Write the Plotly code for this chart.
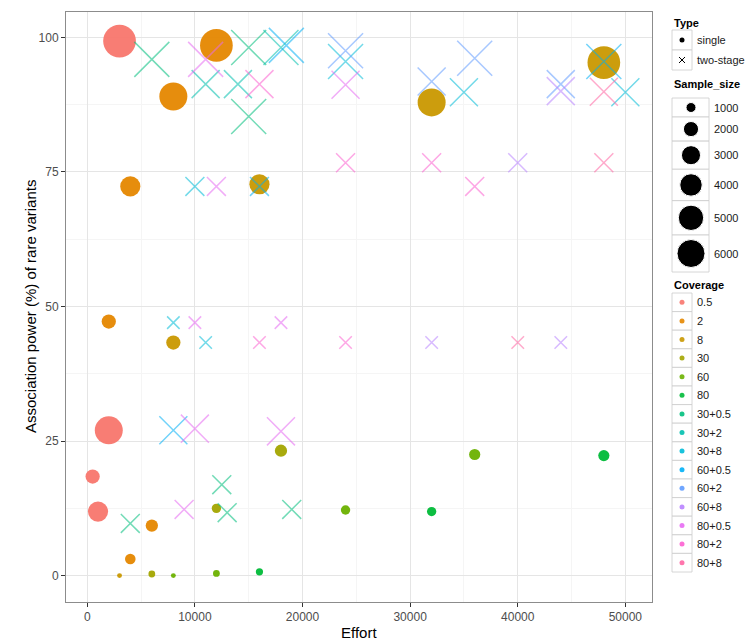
import numpy as np
import plotly.graph_objects as go

# coverage levels and the ggplot hue palette
coverage_levels = ["0.5", "2", "8", "30", "60", "80", "30+0.5", "30+2", "30+8",
                   "60+0.5", "60+2", "60+8", "80+0.5", "80+2", "80+8"]
coverage_colors = ["#F8766D", "#E58700", "#C99800", "#A3A500", "#6BB100", "#00BA38",
                   "#00BF7D", "#00C0AF", "#00BCD8", "#00B0F6", "#619CFF", "#B983FF",
                   "#E76BF3", "#FD61D1", "#FF67A4"]
size_breaks = [1000, 2000, 3000, 4000, 5000, 6000]
type_labels = ["single", "two-stage"]

# single design (circles)
single_effort = [3000, 12000, 8000, 32000, 48000, 4000, 16000, 2000, 8000, 2000, 500, 1000,
                 18000, 12000, 24000, 6000, 4000, 3000, 6000, 8000, 12000, 16000, 36000, 32000, 48000]
single_power = [99.3, 98.5, 89.0, 87.9, 95.3, 72.3, 72.7, 47.2, 43.3, 27.0, 18.4, 11.9,
                23.2, 12.5, 12.2, 9.3, 3.1, 0.0, 0.3, 0.0, 0.4, 0.7, 22.5, 11.9, 22.3]
single_size = [8000, 8000, 6000, 6000, 8000, 3300, 3300, 1800, 1800, 6000, 1800, 3300,
               1400, 900, 900, 1400, 1100, 350, 550, 350, 550, 600, 1200, 900, 1200]
single_cov = ["0.5", "2", "2", "8", "8", "2", "8", "2", "8", "0.5", "0.5", "0.5",
              "30", "30", "60", "2", "2", "8", "30", "60", "60", "80", "60", "80", "80"]

# two-stage design (crosses)
two_effort = [6000, 11000, 11000, 14000, 15000, 15000, 16000, 18000, 18500, 24000, 24000, 24000,
              32000, 35000, 36000, 44000, 44000, 48000, 48000, 50000,
              10000, 12000, 16000, 24000, 32000, 36000, 40000, 48000,
              8000, 10000, 18000, 11000, 16000, 24000, 32000, 40000, 44000,
              8000, 10000, 18000, 12500, 13000, 19000, 9000, 4000]
two_power = [95.9, 95.9, 91.3, 91.3, 98.1, 85.3, 91.3, 98.1, 98.5, 97.5, 95.5, 91.2,
             91.8, 89.8, 96.1, 91.3, 90.0, 95.5, 89.9, 89.8,
             72.3, 72.3, 72.3, 76.7, 76.7, 72.3, 76.7, 76.7,
             47.0, 47.0, 47.0, 43.3, 43.3, 43.3, 43.3, 43.3, 43.3,
             27.0, 27.3, 26.8, 16.9, 11.7, 12.3, 12.3, 9.7]
two_size = [6000, 6000, 4000, 4000, 6000, 6000, 4000, 6000, 6000, 6000, 6000, 4000,
            4000, 4000, 6000, 4000, 4000, 6000, 4000, 4000,
            2000, 2000, 2000, 2000, 2000, 2000, 2000, 2000,
            1000, 1000, 1000, 1000, 1000, 1000, 1000, 1000, 1000,
            4000, 4000, 4000, 2000, 2000, 2000, 2000, 2000]
two_cov = ["30+0.5", "80+0.5", "30+2", "30+2", "30+0.5", "30+0.5", "80+2", "30+2", "60+0.5",
           "60+2", "30+8", "80+0.5", "60+2", "30+8", "60+2", "60+2", "60+8", "60+0.5",
           "80+8", "30+8",
           "30+8", "80+0.5", "60+0.5", "80+2", "80+2", "80+2", "60+8", "80+8",
           "30+8", "80+0.5", "80+0.5", "30+8", "80+2", "80+2", "60+8", "80+8", "60+8",
           "60+0.5", "80+0.5", "80+0.5", "30+0.5", "30+0.5", "30+0.5", "80+0.5", "30+0.5"]

W, H = 754, 644
FONT = "Liberation Sans"


def diam(n):
    # area-like size scale (pixels)
    return -2.42 + 12.42 * np.sqrt(np.asarray(n, dtype=float) / 1000)


fig = go.Figure()

# circles first, then crosses
for lev, col in zip(coverage_levels, coverage_colors):
    idx = [i for i, c in enumerate(single_cov) if c == lev]
    if idx:
        fig.add_trace(go.Scatter(
            x=[single_effort[i] for i in idx],
            y=[single_power[i] for i in idx],
            mode="markers",
            marker=dict(symbol="circle", color=col, opacity=0.95,
                        size=diam([single_size[i] for i in idx]), line=dict(width=0)),
            showlegend=False, hoverinfo="x+y"))

for lev, col in zip(coverage_levels, coverage_colors):
    idx = [i for i, c in enumerate(two_cov) if c == lev]
    if idx:
        fig.add_trace(go.Scatter(
            x=[two_effort[i] for i in idx],
            y=[two_power[i] for i in idx],
            mode="markers",
            marker=dict(symbol="x-thin", color=col, opacity=0.55,
                        size=1.25 * diam([two_size[i] for i in idx]),
                        line=dict(width=1.5, color=col)),
            showlegend=False, hoverinfo="x+y"))

# ---- hand built legend on a hidden pixel axis ----
shapes = []
annots = []
txt = dict(family=FONT, size=11, color="#1a1a1a")
ttl = dict(family=FONT, size=11, color="#000000")
box_line = dict(color="#cccccc", width=0.8)


def key_box(x0, y0, x1, y1):
    shapes.append(dict(type="rect", xref="x2", yref="y2", x0=x0, y0=y0, x1=x1, y1=y1,
                       line=box_line, fillcolor="white", layer="below"))


# Type
annots.append(dict(text="<b>Type</b>", x=672, y=23, xref="x2", yref="y2", showarrow=False,
                   xanchor="left", yanchor="middle", font=ttl))
type_y = [40, 60]
for k, lab in enumerate(type_labels):
    key_box(672, type_y[k] - 10, 692, type_y[k] + 10)
    annots.append(dict(text=lab, x=695, y=type_y[k], xref="x2", yref="y2", showarrow=False,
                       xanchor="left", yanchor="middle", font=txt))
fig.add_trace(go.Scatter(x=[682], y=[type_y[0]], xaxis="x2", yaxis="y2", mode="markers",
                         marker=dict(symbol="circle", size=5, color="black", opacity=1),
                         showlegend=False, hoverinfo="skip"))
fig.add_trace(go.Scatter(x=[682], y=[type_y[1]], xaxis="x2", yaxis="y2", mode="markers",
                         marker=dict(symbol="x-thin", size=6, color="black", opacity=1,
                                     line=dict(width=1, color="black")),
                         showlegend=False, hoverinfo="skip"))

# Sample_size
annots.append(dict(text="<b>Sample_size</b>", x=672, y=84, xref="x2", yref="y2", showarrow=False,
                   xanchor="left", yanchor="middle", font=ttl))
y0 = 98
size_y = []
for b in size_breaks:
    h = max(19, float(diam(b)) + 9)
    key_box(672, y0, 709, y0 + h)
    size_y.append(y0 + h / 2)
    annots.append(dict(text=str(b), x=712, y=y0 + h / 2, xref="x2", yref="y2", showarrow=False,
                       xanchor="left", yanchor="middle", font=txt))
    y0 += h
fig.add_trace(go.Scatter(x=[691] * len(size_breaks), y=size_y, xaxis="x2", yaxis="y2",
                         mode="markers",
                         marker=dict(symbol="circle", size=diam(size_breaks), color="black",
                                     opacity=1),
                         showlegend=False, hoverinfo="skip"))

# Coverage
annots.append(dict(text="<b>Coverage</b>", x=672, y=285, xref="x2", yref="y2", showarrow=False,
                   xanchor="left", yanchor="middle", font=ttl))
row_h = 18.6
cov_y = []
for k, lev in enumerate(coverage_levels):
    top = 293 + k * row_h
    key_box(672, top, 692, top + row_h)
    cov_y.append(top + row_h / 2)
    annots.append(dict(text=lev, x=695, y=top + row_h / 2, xref="x2", yref="y2", showarrow=False,
                       xanchor="left", yanchor="middle", font=txt))
fig.add_trace(go.Scatter(x=[682] * len(coverage_levels), y=cov_y, xaxis="x2", yaxis="y2",
                         mode="markers",
                         marker=dict(symbol="circle", size=5, color=coverage_colors, opacity=0.9),
                         showlegend=False, hoverinfo="skip"))

# axis titles
annots.append(dict(text="Effort", x=359 / W, y=1 - 632 / H, xref="paper", yref="paper",
                   showarrow=False, xanchor="center", yanchor="middle",
                   font=dict(family=FONT, size=15, color="#000000")))
annots.append(dict(text="Association power (%) of rare variants", x=31 / W, y=1 - 307 / H,
                   xref="paper", yref="paper", showarrow=False, textangle=-90,
                   xanchor="center", yanchor="middle",
                   font=dict(family=FONT, size=15, color="#000000")))

axis_common = dict(showgrid=True, gridcolor="#e5e5e5", gridwidth=1, zeroline=False,
                   showline=True, linecolor="#8c8c8c", linewidth=1, mirror=True,
                   ticks="outside", ticklen=4, tickcolor="#333333", tickwidth=1,
                   tickfont=dict(family=FONT, size=12, color="#4d4d4d"),
                   tickformat="d", automargin=False, fixedrange=True)

fig.update_layout(
    width=W, height=H,
    margin=dict(l=0, r=0, t=0, b=0),
    paper_bgcolor="white", plot_bgcolor="white",
    xaxis=dict(domain=[66 / W, 652 / W], range=[-1975, 52475],
               tickvals=[0, 10000, 20000, 30000, 40000, 50000],
               minor=dict(tickvals=[5000, 15000, 25000, 35000, 45000], showgrid=True,
                          gridcolor="#f5f5f5", ticks=""),
               **axis_common),
    yaxis=dict(domain=[1 - 602 / H, 1 - 12 / H], range=[-4.9, 104.7],
               tickvals=[0, 25, 50, 75, 100],
               minor=dict(tickvals=[12.5, 37.5, 62.5, 87.5], showgrid=True,
                          gridcolor="#f5f5f5", ticks=""),
               **axis_common),
    xaxis2=dict(domain=[660 / W, 1], range=[660, 754], visible=False, anchor="y2",
                fixedrange=True),
    yaxis2=dict(domain=[0, 1], range=[644, 0], visible=False, anchor="x2", fixedrange=True),
    shapes=shapes,
    annotations=annots,
    font=dict(family=FONT),
)

fig.write_html("out.html", config={"displayModeBar": False},
               post_script="document.body.style.margin='0';document.body.style.overflow='hidden';")
